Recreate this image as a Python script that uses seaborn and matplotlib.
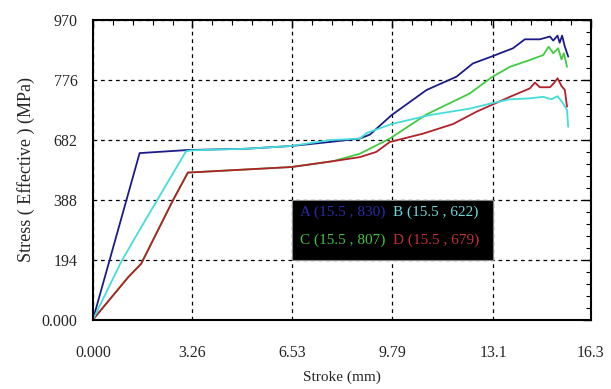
import numpy as np
import pandas as pd
import matplotlib
matplotlib.use("Agg")
import matplotlib.pyplot as plt
import seaborn as sns
from matplotlib.patches import Rectangle
from matplotlib.ticker import AutoMinorLocator

# stroke (mm) / effective stress (MPa)
a_x = [0.0, 1.53, 3.11, 5.0, 6.50, 7.76, 8.74, 9.07, 9.78, 10.92, 11.90, 12.44, 12.99,
       13.75, 14.14, 14.63, 14.96, 15.07, 15.21, 15.28, 15.36, 15.45, 15.56]
a_y = [0, 539, 549, 553, 562, 575, 586, 599, 662, 743, 786, 829, 849,
       878, 907, 907, 916, 903, 919, 896, 919, 883, 851]

b_x = [0.0, 0.93, 1.58, 3.05, 3.23, 5.0, 6.50, 7.76, 8.74, 8.96, 9.78, 11.03, 12.34,
       13.05, 13.65, 14.30, 14.74, 15.01, 15.21, 15.39, 15.52, 15.56]
b_y = [0, 188, 299, 545, 548, 553, 562, 581, 586, 604, 633, 662, 683,
       700, 713, 716, 721, 713, 723, 700, 678, 624]

c_x = [0.0, 1.15, 1.58, 2.62, 3.11, 5.0, 6.50, 7.87, 8.74, 9.28, 9.72, 10.92, 12.34,
       13.05, 13.65, 14.30, 14.74, 14.92, 15.07, 15.23, 15.34, 15.42, 15.52]
c_y = [0, 137, 181, 386, 476, 486, 494, 513, 537, 564, 586, 664, 732,
       784, 818, 840, 856, 883, 862, 878, 842, 862, 818]

d_x = [0.0, 1.15, 1.58, 2.62, 3.11, 5.0, 6.50, 7.87, 8.74, 9.28, 9.72, 10.81, 11.79,
       12.56, 13.65, 14.30, 14.47, 14.63, 14.96, 15.09, 15.21, 15.34, 15.45, 15.52]
d_y = [0, 137, 181, 386, 476, 486, 494, 513, 526, 543, 575, 602, 633,
       673, 721, 748, 767, 752, 752, 765, 781, 756, 743, 689]

series = ["A", "B", "C", "D"]
colors = {"A": "#1c1c88", "B": "#45dcdc", "C": "#40cc40", "D": "#b3202a"}
text_colors = {"A": "#2a2aa8", "B": "#6fd8d8", "C": "#44c044", "D": "#c0303a"}
legend_labels = {"A": "A (15.5 , 830)", "B": "B (15.5 , 622)",
                 "C": "C (15.5 , 807)", "D": "D (15.5 , 679)"}

x_ticks = [0.0, 3.26, 6.53, 9.79, 13.1, 16.3]
x_ticklabels = ["0.000", "3.26", "6.53", "9.79", "13.1", "16.3"]
y_ticks = [0, 194, 388, 582, 776, 970]
y_ticklabels = ["0.000", "194", "388", "682", "776", "970"]

frames = []
for name, xs, ys in zip(series, [a_x, b_x, c_x, d_x], [a_y, b_y, c_y, d_y]):
    frames.append(pd.DataFrame({"stroke": xs, "stress": ys, "curve": name}))
df = pd.concat(frames, ignore_index=True)

sns.set_style("white")
plt.rcParams["font.family"] = ["Liberation Serif", "DejaVu Serif"]

fig = plt.figure(figsize=(6.11, 3.89), dpi=100)
ax = fig.add_axes([0.152, 0.178, 0.815, 0.771])

# draw order: green under red, blue/cyan on top
for name in ["C", "D", "A", "B"]:
    sub = df[df["curve"] == name]
    sns.lineplot(data=sub, x="stroke", y="stress", color=colors[name],
                 sort=False, estimator=None, linewidth=1.3, ax=ax)

ax.set_xlim(0, 16.3)
ax.set_ylim(0, 970)
ax.set_xticks(x_ticks)
ax.set_xticklabels(x_ticklabels, fontsize=11.5)
ax.set_yticks(y_ticks)
ax.set_yticklabels(y_ticklabels, fontsize=11.5)
ax.xaxis.set_minor_locator(AutoMinorLocator(5))
ax.yaxis.set_minor_locator(AutoMinorLocator(5))
ax.tick_params(which="both", direction="in", top=True, right=True, color="black")
ax.tick_params(which="major", length=6, width=1.0)
ax.tick_params(axis="x", which="major", pad=18)
ax.tick_params(axis="y", which="major", pad=11)
ax.tick_params(which="minor", length=3.5, width=0.8)
ax.grid(True, which="major", linestyle=(0, (3, 3)), color="black", linewidth=0.9)
for s in ax.spines.values():
    s.set_color("black")
    s.set_linewidth(1.5)

ax.set_xlabel("Stroke (mm)", fontsize=11, labelpad=7)
ax.set_ylabel("Stress ( Effective ) (MPa)", fontsize=13, labelpad=5)

# legend box filling one grid cell
ax.add_patch(Rectangle((x_ticks[2], y_ticks[1]), x_ticks[4] - x_ticks[2],
                       y_ticks[2] - y_ticks[1], facecolor="black",
                       edgecolor="#888888", linewidth=0.8, zorder=3))
ax.text(6.78, 347, legend_labels["A"], color=text_colors["A"], fontsize=11, va="center", zorder=4)
ax.text(9.82, 347, legend_labels["B"], color=text_colors["B"], fontsize=11, va="center", zorder=4)
ax.text(6.78, 256, legend_labels["C"], color=text_colors["C"], fontsize=11, va="center", zorder=4)
ax.text(9.82, 256, legend_labels["D"], color=text_colors["D"], fontsize=11, va="center", zorder=4)

fig.savefig("out.png", dpi=100)
